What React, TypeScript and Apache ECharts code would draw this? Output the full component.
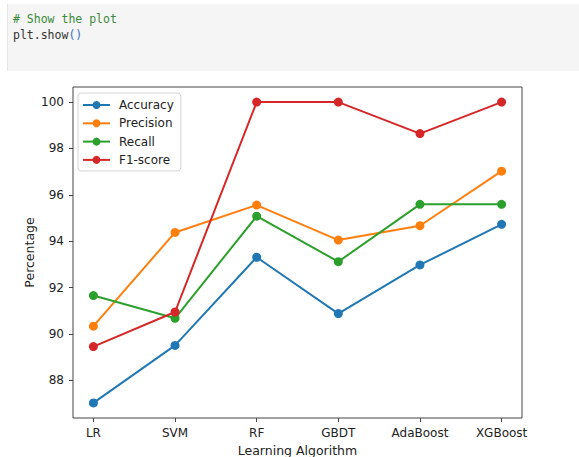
import React, { useEffect, useRef } from "react";
import * as echarts from "echarts";

const categories = ["LR", "SVM", "RF", "GBDT", "AdaBoost", "XGBoost"];
const seriesNames = ["Accuracy", "Precision", "Recall", "F1-score"];
const accuracy = [87.03, 89.51, 93.31, 90.88, 92.98, 94.73];
const precision = [90.34, 94.38, 95.56, 94.05, 94.67, 97.02];
const recall = [91.66, 90.68, 95.08, 93.12, 95.59, 95.59];
const f1score = [89.46, 90.95, 100, 100, 98.64, 100];
const yTicks = [88, 90, 92, 94, 96, 98, 100];
const colors = ["#1f77b4", "#ff7f0e", "#2ca02c", "#d62728"];

const FONT = "DejaVu Sans";

export default function App() {
  const ref = useRef<HTMLDivElement>(null);

  useEffect(() => {
    if (!ref.current) return;
    const chart = echarts.init(ref.current, null, { renderer: "svg" });
    const allSeries = [accuracy, precision, recall, f1score];
    const xIdx = categories.map((_, i) => i);
    chart.setOption({
      animation: false,
      backgroundColor: "transparent",
      grid: {
        left: 73,
        top: 87,
        right: 57,
        bottom: 39,
        show: true,
        borderColor: "#444",
        borderWidth: 1,
        backgroundColor: "transparent",
        containLabel: false,
        outerBoundsMode: "none",
      },
      legend: {
        orient: "vertical",
        left: 78,
        top: 93,
        padding: [5, 7, 4, 4],
        itemGap: 4.3,
        itemWidth: 27,
        itemHeight: 10,
        backgroundColor: "#fff",
        borderColor: "#d4d4d4",
        borderWidth: 1,
        borderRadius: 3,
        textStyle: {
          fontFamily: FONT,
          fontSize: 12,
          color: "#222",
          lineHeight: 14,
          padding: [0, 0, 0, 4],
        },
        data: seriesNames,
      },
      xAxis: {
        type: "value",
        min: -0.25,
        max: 5.25,
        position: "bottom",
        name: "Learning Algorithm",
        nameLocation: "middle",
        nameGap: 26,
        nameMoveOverlap: false,
        nameTextStyle: { fontFamily: FONT, fontSize: 12.5, color: "#222" },
        axisLine: { show: false, onZero: false },
        splitLine: { show: false },
        axisTick: {
          show: true,
          length: 4,
          customValues: xIdx,
          lineStyle: { color: "#444" },
        },
        axisLabel: {
          customValues: xIdx,
          margin: 9,
          fontFamily: FONT,
          fontSize: 12,
          color: "#222",
          formatter: (v: number) => categories[Math.round(v)] ?? "",
        },
      },
      yAxis: {
        type: "value",
        min: 86.38,
        max: 100.65,
        position: "left",
        name: "Percentage",
        nameLocation: "middle",
        nameGap: 37,
        nameMoveOverlap: false,
        nameTextStyle: { fontFamily: FONT, fontSize: 12.5, color: "#222" },
        axisLine: { show: false, onZero: false },
        splitLine: { show: false },
        axisTick: {
          show: true,
          length: 4,
          customValues: yTicks,
          lineStyle: { color: "#444" },
        },
        axisLabel: {
          customValues: yTicks,
          margin: 9,
          fontFamily: FONT,
          fontSize: 12,
          color: "#222",
        },
      },
      series: seriesNames.map((name, s) => ({
        name,
        type: "line",
        data: allSeries[s].map((v, i) => [i, v]),
        symbol: "circle",
        symbolSize: 9,
        showSymbol: true,
        lineStyle: { width: 2, color: colors[s] },
        itemStyle: { color: colors[s] },
        emphasis: { disabled: true },
      })),
    });
    return () => chart.dispose();
  }, []);

  return (
    <div
      style={{
        position: "absolute",
        left: 0,
        top: 0,
        width: 579,
        height: 457,
        background: "#fff",
        overflow: "hidden",
      }}
    >
      <div
        style={{
          position: "absolute",
          left: 7,
          top: 4,
          width: 572,
          height: 67,
          background: "#f5f5f5",
          borderLeft: "1px solid #e6e6e6",
        }}
      >
        <pre
          style={{
            margin: 0,
            position: "absolute",
            left: 5,
            top: 7,
            fontFamily: "DejaVu Sans Mono",
            fontSize: 11.5,
            lineHeight: "16px",
            color: "#333",
          }}
        >
          <span style={{ color: "#3a8a3a" }}># Show the plot</span>
          {"\n"}
          <span>plt.show</span>
          <span style={{ color: "#3b6fd1" }}>()</span>
        </pre>
      </div>
      <div
        ref={ref}
        style={{ position: "absolute", left: 0, top: 0, width: 579, height: 457 }}
      />
    </div>
  );
}
